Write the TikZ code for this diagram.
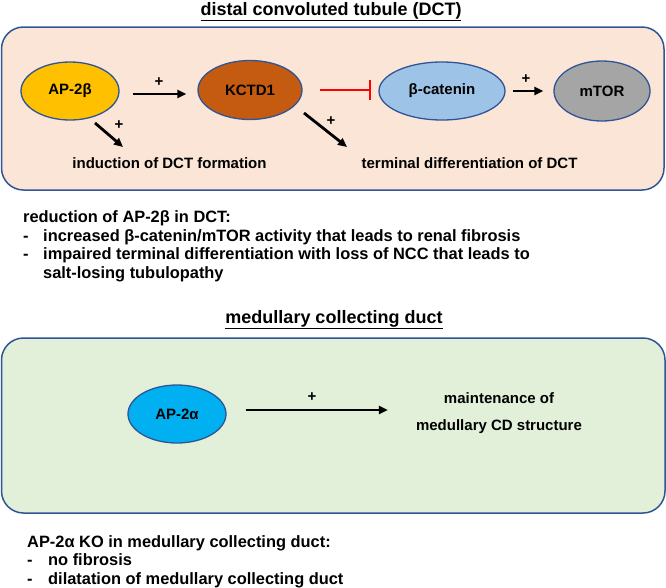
\documentclass[tikz,border=0pt]{standalone}
\usepackage{fontspec}
\setmainfont{Liberation Sans}
\usetikzlibrary{arrows.meta,shapes.geometric}
\definecolor{edgeblue}{RGB}{47,85,151}
\definecolor{peach}{RGB}{251,229,214}
\definecolor{mint}{RGB}{226,240,217}
\definecolor{apbeta}{RGB}{255,192,0}
\definecolor{kctd}{RGB}{197,90,17}
\definecolor{bcat}{RGB}{157,195,230}
\definecolor{mtor}{RGB}{165,165,165}
\definecolor{apalpha}{RGB}{0,176,240}
\newcommand\titlefont{\bfseries\fontsize{18}{21}\selectfont}
\newcommand\genefont{\bfseries\fontsize{15}{18}\selectfont}
\newcommand\bodyfont{\bfseries\fontsize{16.4}{19}\selectfont}
\begin{document}
\begin{tikzpicture}[x=1pt,y=-1pt,
		gene/.style={ellipse,draw=edgeblue,line width=1.3pt,inner sep=0pt,font=\genefont},
		panel/.style={draw=edgeblue,line width=1.5pt,rounded corners=22pt},
		posarrow/.style={-{Triangle[length=9pt,width=8pt]},line width=2.8pt},
		plus/.style={font=\genefont,inner sep=0pt},
		lbl/.style={font=\genefont,inner sep=0pt,anchor=base},
		body/.style={font=\bodyfont,inner sep=0pt,anchor=base west},
		head/.style={font=\titlefont,inner sep=0pt,anchor=base}]
		%kidney AP-2 scheme
		\useasboundingbox (0,0) rectangle (666,587);
		\fill [white] (0,0) rectangle (666,587);
		% DCT panel
		\node [head] (dcthead) at (331,15) {\underline{distal convoluted tubule (DCT)}};
		\draw [panel,fill=peach] (1.5,27) rectangle (664,190);
		\node [gene,fill=apbeta,minimum width=98,minimum height=58] (ap2b) at (70,91) {AP-2β};
		\node [gene,fill=kctd,minimum width=104,minimum height=59] (kctd1) at (250,90) {KCTD1};
		\node [gene,fill=bcat,minimum width=126,minimum height=58] (bcat) at (442,91) {β-catenin};
		\node [gene,fill=mtor,minimum width=96,minimum height=60] (mtor) at (602,91) {mTOR};
		\draw [posarrow,shorten <=13pt,shorten >=11pt] ([yshift=-3pt]ap2b.east) -- ([yshift=-3pt]ap2b.east -| kctd1.west);
		\draw [red,line width=2.7pt,-{Bar[width=20pt,line width=2.7pt]},shorten <=17pt,shorten >=7pt] (kctd1.east) -- (kctd1.east -| bcat.west);
		\draw [posarrow,shorten <=7pt,shorten >=10pt] (bcat.east) -- (bcat.east -| mtor.west);
		\node [plus] (p1) at (159,82) {+};
		\node [plus] (p2) at (526,79) {+};
		\coordinate (d1a) at (95,123);
		\coordinate (d1b) at (123,147);
		\coordinate (d2a) at (304,113);
		\coordinate (d2b) at (347,147);
		\draw [posarrow] (d1a) -- (d1b);
		\draw [posarrow] (d2a) -- (d2b);
		\node [plus] (p3) at (119,125) {+};
		\node [plus] (p4) at (331,121) {+};
		\node [lbl] (induct) at (169.5,168) {induction of DCT formation};
		\node [lbl] (termdiff) at (469.5,168) {terminal differentiation of DCT};
		% DCT notes
		\node [body] (redhead) at (23,222) {reduction of AP-2β in DCT:};
		\node [body] (dasha) at (23,241) {-};
		\node [body] (itema) at (43,241) {increased β-catenin/mTOR activity that leads to renal fibrosis};
		\node [body] (dashb) at (23,259.5) {-};
		\node [body] (itemb) at (43,259.5) {impaired terminal differentiation with loss of NCC that leads to};
		\node [body] (itemc) at (43,278) {salt-losing tubulopathy};
		% medullary panel
		\node [head] (cdhead) at (334,323) {\underline{medullary collecting duct}};
		\draw [panel,fill=mint] (1.5,338) rectangle (665,513);
		\node [gene,fill=apalpha,minimum width=98,minimum height=58] (ap2a) at (177,414) {AP-2α};
		\node [lbl] (maint) at (499,403) {maintenance of};
		\node [lbl] (cdstruct) at (499,430) {medullary CD structure};
		\draw [posarrow,shorten <=19pt,shorten >=28pt] ([yshift=4pt]ap2a.east) -- ([yshift=4pt]ap2a.east -| cdstruct.west);
		\node [plus] (p5) at (312,397) {+};
		% medullary notes
		\node [body] (kohead) at (27,547) {AP-2α KO in medullary collecting duct:};
		\node [body] (dashc) at (27,565.5) {-};
		\node [body] (itemd) at (48,565.5) {no fibrosis};
		\node [body] (dashd) at (27,584) {-};
		\node [body] (iteme) at (48,584) {dilatation of medullary collecting duct};
\end{tikzpicture}
\end{document}
